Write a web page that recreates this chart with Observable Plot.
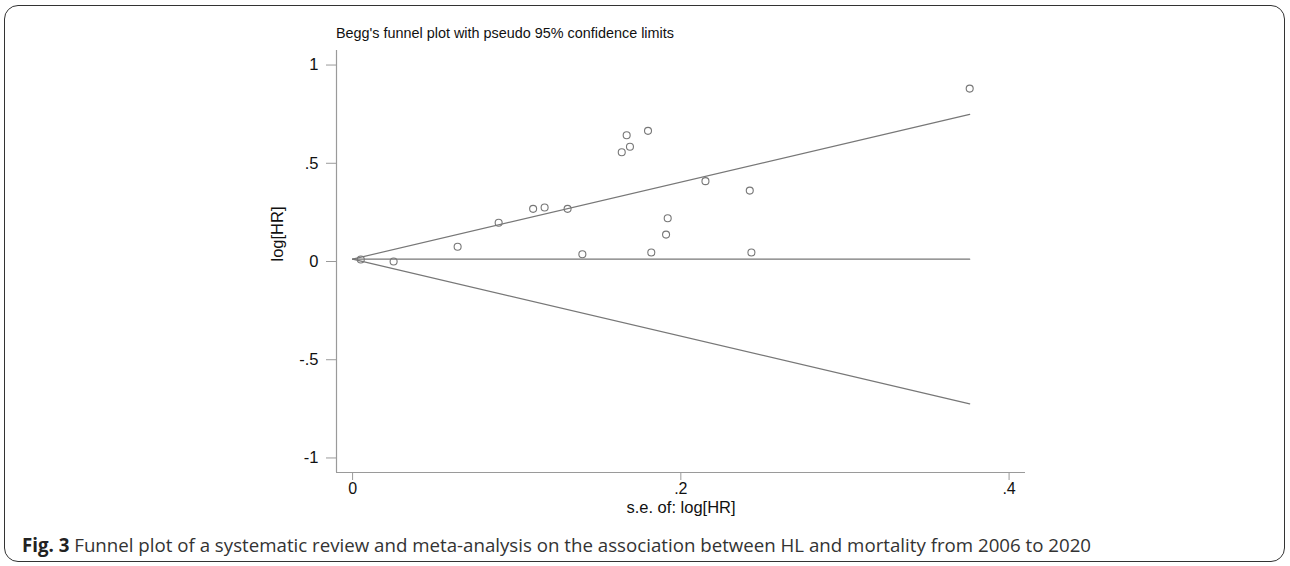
<!DOCTYPE html>
<html><head><meta charset="utf-8">
<script src="https://cdn.jsdelivr.net/npm/d3@7"></script>
<script src="https://cdn.jsdelivr.net/npm/@observablehq/plot@0.6"></script>
<style>
body{margin:0;background:#fff;}
#wrap{position:relative;width:1290px;height:566px;overflow:hidden;background:#fff;}
#frame{position:absolute;left:4px;top:5px;width:1279px;height:555px;border:1.5px solid #333;border-radius:14px;}
#chart{position:absolute;left:0;top:0;}
#title{position:absolute;left:336px;top:25px;font:14.4px "Liberation Sans",Arial,sans-serif;color:#111;white-space:nowrap;}
#caption{position:absolute;left:22px;top:532px;font:18.7px "Open Sans",sans-serif;color:#333;white-space:nowrap;}
#caption b{font-weight:700;color:#222;}
</style></head>
<body>
<div id="wrap">
  <div id="frame"></div>
  <div id="chart"></div>
  <div id="title">Begg's funnel plot with pseudo 95% confidence limits</div>
  <div id="caption"><b>Fig. 3</b> Funnel plot of a systematic review and meta-analysis on the association between HL and mortality from 2006 to 2020</div>
</div>
<script>
// Study points: standard error of log[HR] and log[HR]
const studySe    = [0.005, 0.025, 0.064, 0.089, 0.110, 0.117, 0.131, 0.140, 0.164, 0.167, 0.169, 0.180, 0.182, 0.191, 0.192, 0.215, 0.242, 0.243, 0.376];
const studyLogHR = [0.010, 0.000, 0.075, 0.197, 0.268, 0.275, 0.268, 0.037, 0.556, 0.643, 0.584, 0.665, 0.046, 0.137, 0.220, 0.409, 0.361, 0.046, 0.880];

// Pseudo 95% confidence limit lines (endpoints)
const limitSe     = [0, 0.376];
const upperLimit  = [0.012, 0.749];
const lowerLimit  = [0.012, -0.725];
const pooledLine  = [0.012, 0.012];

// Axes
const xTicks = [0, 0.2, 0.4];
const xTickLabels = ["0", ".2", ".4"];
const yTicks = [-1, -0.5, 0, 0.5, 1];
const yTickLabels = ["-1", "-.5", "0", ".5", "1"];
const xDomain = [-0.0098, 0.41];
const yDomain = [-1.074, 1.074];
const xTitle = "s.e. of: log[HR]";
const yTitle = "log[HR]";

const points = studySe.map((s, i) => ({se: s, lhr: studyLogHR[i]}));
const lineRows = (ys, name) => limitSe.map((s, i) => ({se: s, v: ys[i], name}));
const lines = [...lineRows(upperLimit, "upper"), ...lineRows(lowerLimit, "lower"), ...lineRows(pooledLine, "pooled")];

const font = "'Liberation Sans', Arial, sans-serif";
const chart = Plot.plot({
  width: 1290,
  height: 525,
  marginLeft: 336,
  marginRight: 265,
  marginTop: 50,
  marginBottom: 53,
  style: {fontFamily: font, background: "transparent", overflow: "visible"},
  x: {domain: xDomain},
  y: {domain: yDomain},
  marks: [
    Plot.ruleX([xDomain[0]], {stroke: "#9a9a9a", strokeWidth: 1.2}),
    Plot.ruleY([yDomain[0]], {stroke: "#9a9a9a", strokeWidth: 1.2}),
    Plot.axisX(xTicks, {tickSize: 8, tickPadding: 2, stroke: "#9a9a9a", fill: "#111", fontSize: 16,
      tickFormat: d => xTickLabels[xTicks.indexOf(d)], label: null}),
    Plot.axisY(yTicks, {tickSize: 10, tickPadding: 8, stroke: "#9a9a9a", fill: "#111", fontSize: 16.5,
      tickFormat: d => yTickLabels[yTicks.indexOf(d)], label: null}),
    Plot.text([xTitle], {frameAnchor: "bottom", dy: 40, fontSize: 16.5, fill: "#111"}),
    Plot.text([yTitle], {frameAnchor: "left", dx: -59, rotate: -90, fontSize: 16.5, fill: "#111"}),
    Plot.line(lines, {x: "se", y: "v", z: "name", stroke: "#777", strokeWidth: 1.2}),
    Plot.dot(points, {x: "se", y: "lhr", r: 3.5, stroke: "#777", strokeWidth: 1.1, fill: "none"})
  ]
});
document.getElementById("chart").appendChild(chart);
</script>
</body></html>
